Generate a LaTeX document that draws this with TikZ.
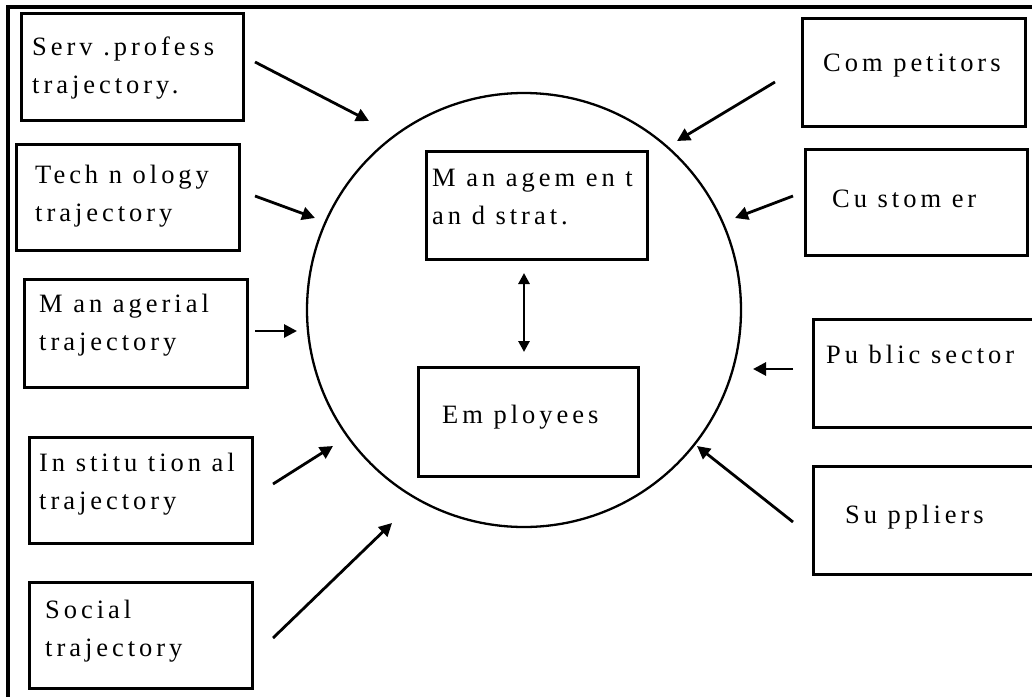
\documentclass[tikz,border=0pt]{standalone}
\usepackage{fontspec}
\setmainfont{Liberation Serif}[LetterSpace=15]
\usetikzlibrary{arrows.meta,fit}
\begin{document}
\begin{tikzpicture}[x=1pt,y=-1pt,
  box/.style={draw, line width=3pt, inner sep=0pt},
  lbl/.style={inner sep=0pt, align=left, font=\fontsize{26.5}{37.5}\selectfont, anchor=base west},
  arr/.style={line width=2.8pt, -{Triangle[length=13pt,width=13pt]}},
  dbl/.style={line width=2.8pt, {Triangle[length=11pt,width=11pt]}-{Triangle[length=11pt,width=11pt]}},
]
\useasboundingbox (0,0) rectangle (1032,696);
% outer frame (cut off at right and bottom)
\draw[line width=4.5pt] (8,710) -- (8,7) -- (1045,7);
% circle
\node[draw, circle, line width=2.3pt, minimum size=434pt, inner sep=0pt] (org) at (524,310) {};
% left boxes
\node[box, fit={(21,13) (243,120)}] (serv) {};
\node[box, fit={(16,144) (239,250)}] (tech) {};
\node[box, fit={(24,279) (247,387)}] (mgr) {};
\node[box, fit={(29,437) (252,543)}] (inst) {};
\node[box, fit={(29,582) (252,688)}] (soc) {};
% right boxes
\node[box, fit={(802,18) (1025,126)}] (comp) {};
\node[box, fit={(805,149) (1027,255)}] (cust) {};
\node[box, fit={(813,319) (1045,427)}] (pub) {};
\node[box, fit={(813,466) (1045,574)}] (supp) {};
% inner boxes
\node[box, fit={(426,151) (647,259)}] (mgmt) {};
\node[box, fit={(418,367) (638,476)}] (emp) {};
% labels (base anchor = baseline of the last line)
\node[lbl] (servt) at (32,93) {Serv .profess\\trajectory.};
\node[lbl] (techt) at (35,221) {Tech n ology\\trajectory};
\node[lbl] (mgrt) at (39,350) {M an agerial\\trajectory};
\node[lbl] (instt) at (39,509) {In stitu tion al\\trajectory};
\node[lbl] (soct) at (45,656) {Social\\trajectory};
\node[lbl] (compt) at (823,71) {Com petitors};
\node[lbl] (custt) at (832,207) {Cu stom er};
\node[lbl] (pubt) at (826,363) {Pu blic sector};
\node[lbl] (suppt) at (845,523) {Su ppliers};
\node[lbl] (mgmtt) at (432,224) {M an agem en t\\an d strat.};
\node[lbl] (empt) at (442,423) {Em ployees};
% arrow end points
\coordinate (s1) at (255,62);  \coordinate (e1) at (369,121);
\coordinate (s2) at (255,196); \coordinate (e2) at (315,218);
\coordinate (s3) at (255,331); \coordinate (e3) at (297,331);
\coordinate (s4) at (273,484); \coordinate (e4) at (333,446);
\coordinate (s5) at (273,638); \coordinate (e5) at (392,523);
\coordinate (s6) at (775,82);  \coordinate (e6) at (677,141);
\coordinate (s7) at (793,196); \coordinate (e7) at (735,218);
\coordinate (s8) at (793,369); \coordinate (e8) at (753,369);
\coordinate (s9) at (793,522); \coordinate (e9) at (697,446);
\coordinate (d1) at (524,273); \coordinate (d2) at (524,352);
\draw[arr] (s1) -- (e1);
\draw[arr] (s2) -- (e2);
\draw[arr] (s3) -- (e3);
\draw[arr] (s4) -- (e4);
\draw[arr] (s5) -- (e5);
\draw[arr] (s6) -- (e6);
\draw[arr] (s7) -- (e7);
\draw[arr] (s8) -- (e8);
\draw[arr] (s9) -- (e9);
\draw[dbl] (d1) -- (d2);
\end{tikzpicture}
\end{document}
